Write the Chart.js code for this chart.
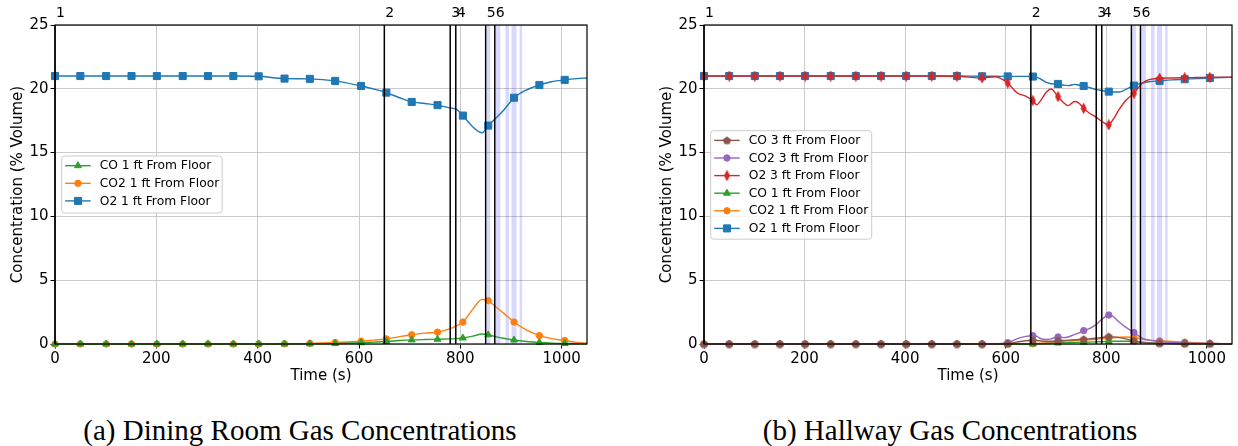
<!DOCTYPE html>
<html><head><meta charset="utf-8">
<script src="https://cdn.jsdelivr.net/npm/chart.js@4.4.1/dist/chart.umd.min.js"></script>
<style>
html,body{margin:0;padding:0;background:#fff;width:1238px;height:446px;overflow:hidden;}
canvas{position:absolute;top:0;}
#cL{left:0;}
#cR{left:620px;}
.cap{position:absolute;top:410px;font-family:'Liberation Serif','Times New Roman',serif;font-size:29px;line-height:40px;color:#000;white-space:nowrap;transform:translateX(-50%);}
</style></head><body>
<canvas id="cL" width="620" height="390" style="width:620px;height:390px"></canvas>
<canvas id="cR" width="618" height="390" style="width:618px;height:390px"></canvas>
<div class="cap" style="left:300px">(a) Dining Room Gas Concentrations</div>
<div class="cap" style="left:950px">(b) Hallway Gas Concentrations</div>
<script>
// ---------- data ----------
const eventTimes = [0, 650, 780, 791, 850, 868];
const eventLabels = ['1', '2', '3', '4', '5', '6'];
const stripeStarts = [852, 870, 889, 901, 917];
const stripeEnds = [859, 879, 896, 911, 922];
const markerTimes = [0,50,101,151,201,252,302,352,402,453,503,553,604,654,704,755,805,855,906,956,1006];
const xTickValues = [0, 200, 400, 600, 800, 1000];
const yTickValues = [0, 5, 10, 15, 20, 25];

// (a) Dining room
const timeDining = [0,50,101,151,201,252,302,352,402,453,503,553,604,630,654,680,704,730,755,780,792,805,825,843,855,865,885,906,930,956,980,1006,1030,1050];
const o2Dining1ft = [21,21,21,21,21,21,21,21,20.98,20.8,20.78,20.62,20.22,19.98,19.7,19.3,18.97,18.85,18.72,18.5,18.4,17.9,17.0,16.55,17.12,17.5,18.3,19.3,19.9,20.3,20.55,20.7,20.8,20.85];
const co2Dining1ft = [0,0,0,0,0,0,0,0,0,0.02,0.05,0.12,0.22,0.3,0.4,0.58,0.72,0.85,0.93,1.2,1.42,1.72,2.75,3.5,3.4,3.08,2.42,1.72,1.1,0.66,0.42,0.27,0.13,0.07];
const coDining1ft = [0,0,0,0,0,0,0,0,0,0,0.01,0.03,0.1,0.15,0.2,0.27,0.32,0.35,0.37,0.4,0.42,0.47,0.62,0.78,0.72,0.62,0.45,0.31,0.2,0.12,0.07,0.04,0.02,0.01];

// (b) Hallway
const timeHall = [0,50,101,151,201,252,302,352,402,453,503,553,580,604,622,640,654,662,668,681,690,704,714,724,737,745,755,766,779,793,805,812,826,839,855,872,885,906,930,956,980,1006,1030,1050];
const o2Hall1ft = [21,21,21,21,21,21,21,21,21,21,21,20.98,20.98,20.97,20.97,20.97,20.96,20.9,20.8,20.5,20.4,20.38,20.3,20.25,20.35,20.3,20.22,20.1,19.95,19.85,19.78,19.75,19.75,19.95,20.25,20.45,20.55,20.62,20.7,20.75,20.8,20.85,20.88,20.9];
const o2Hall3ft = [21,21,21,21,21,21,21,21,21,21,20.98,20.85,20.95,20.45,19.7,19.42,19.08,18.74,19.0,19.75,19.98,19.39,18.95,18.68,19.0,18.9,18.47,18.1,17.8,17.4,17.17,17.5,18.4,19.1,19.65,20.45,20.72,20.82,20.85,20.87,20.88,20.9,20.9,20.9];
const co2Hall3ft = [0,0,0,0,0,0,0,0,0,0,0,0,0.02,0.1,0.4,0.6,0.65,0.6,0.45,0.35,0.4,0.55,0.5,0.55,0.75,0.85,1.05,1.2,1.5,2.0,2.27,2.2,1.7,1.3,0.9,0.45,0.3,0.18,0.12,0.08,0.06,0.04,0.03,0.02];
const coHall3ft = [0,0,0,0,0,0,0,0,0,0,0,0,0,0.02,0.15,0.25,0.28,0.27,0.25,0.22,0.22,0.25,0.27,0.3,0.33,0.35,0.37,0.4,0.45,0.52,0.58,0.56,0.5,0.4,0.25,0.12,0.08,0.05,0.03,0.02,0.01,0.01,0,0];
const coHall1ft = [0,0,0,0,0,0,0,0,0,0,0,0,0,0,0,0,0,0.01,0.02,0.04,0.06,0.08,0.1,0.11,0.12,0.13,0.13,0.15,0.17,0.19,0.2,0.21,0.22,0.22,0.2,0.13,0.08,0.05,0.03,0.02,0.01,0.01,0,0];
const co2Hall1ft = [0,0,0,0,0,0,0,0,0,0,0,0,0,0,0,0,0.02,0.04,0.06,0.1,0.14,0.2,0.22,0.24,0.27,0.28,0.3,0.33,0.37,0.42,0.45,0.48,0.53,0.55,0.5,0.38,0.3,0.25,0.2,0.15,0.1,0.05,0.03,0.02];

// ---------- marker images ----------
function markerImg(w, h, color, drawPath) {
  const c = document.createElement('canvas');
  c.width = w; c.height = h;
  const g = c.getContext('2d');
  g.fillStyle = color; g.strokeStyle = color; g.lineWidth = 1;
  g.beginPath(); drawPath(g, w, h); g.closePath(); g.fill(); g.stroke();
  return c;
}
const thinDiamond = markerImg(7, 11, '#d62728', (g, w, h) => {
  g.moveTo(w/2, 0.5); g.lineTo(w-1, h/2); g.lineTo(w/2, h-0.5); g.lineTo(1, h/2);
});
const pentagon = markerImg(9, 9, '#8c564b', (g, w, h) => {
  const r = 3.8, cx = w/2, cy = h/2 + 0.3;
  for (let i = 0; i < 5; i++) {
    const a = -Math.PI/2 + i * 2*Math.PI/5;
    const px = cx + r*Math.cos(a), py = cy + r*Math.sin(a);
    if (i === 0) g.moveTo(px, py); else g.lineTo(px, py);
  }
});

const markerSet = new Set(markerTimes);
const FONT = "'DejaVu Sans', sans-serif";

function series(label, times, values, color, style, radius) {
  return {
    label,
    data: times.map((t, i) => ({x: t, y: values[i]})),
    borderColor: color, backgroundColor: color,
    borderWidth: 1.4,
    pointStyle: style,
    pointRadius: ctx => (ctx.raw && markerSet.has(ctx.raw.x)) ? radius : 0,
    pointBorderWidth: 1,
    pointHoverRadius: 0,
    cubicInterpolationMode: 'monotone',
    clip: false,
    legendRadius: radius
  };
}

const overlay = {
  id: 'overlay',
  beforeDatasetsDraw(chart) {
    const {ctx, chartArea: a, scales: {x}} = chart;
    ctx.save();
    ctx.fillStyle = 'rgba(0,0,255,0.15)';
    stripeStarts.forEach((s, i) => {
      const x0 = x.getPixelForValue(s), x1 = x.getPixelForValue(stripeEnds[i]);
      ctx.fillRect(x0, a.top, x1 - x0, a.bottom - a.top);
    });
    ctx.restore();
  },
  afterDatasetsDraw(chart, args, opts) {
    const {ctx, chartArea: a, scales: {x}} = chart;
    ctx.save();
    // event lines
    ctx.strokeStyle = '#000'; ctx.lineWidth = 1.5;
    eventTimes.forEach(t => {
      const px = x.getPixelForValue(t);
      ctx.beginPath(); ctx.moveTo(px, a.top); ctx.lineTo(px, a.bottom); ctx.stroke();
    });
    // frame
    ctx.lineWidth = 1.2;
    ctx.strokeRect(a.left, a.top, a.right - a.left, a.bottom - a.top);
    // event labels
    ctx.fillStyle = '#000';
    ctx.font = '14px ' + FONT;
    ctx.textAlign = 'left'; ctx.textBaseline = 'alphabetic';
    eventTimes.forEach((t, i) => {
      ctx.fillText(eventLabels[i], x.getPixelForValue(t) + 1, a.top - 8);
    });
    // legend
    const b = opts.box;
    ctx.beginPath();
    if (ctx.roundRect) ctx.roundRect(b.x, b.y, b.w, b.h, 3); else ctx.rect(b.x, b.y, b.w, b.h);
    ctx.fillStyle = 'rgba(255,255,255,0.8)'; ctx.fill();
    ctx.strokeStyle = '#cccccc'; ctx.lineWidth = 1; ctx.stroke();
    ctx.font = '12.3px ' + FONT; ctx.textBaseline = 'middle';
    chart.data.datasets.forEach((ds, i) => {
      const y = b.y + 9.7 + i * 17.6;
      const x0 = b.x + 3.5, x1 = b.x + 29;
      ctx.strokeStyle = ds.borderColor; ctx.lineWidth = 1.4;
      ctx.beginPath(); ctx.moveTo(x0, y); ctx.lineTo(x1, y); ctx.stroke();
      ctx.fillStyle = ds.backgroundColor; ctx.strokeStyle = ds.borderColor; ctx.lineWidth = 1;
      Chart.helpers.drawPoint(ctx, {pointStyle: ds.pointStyle, radius: ds.legendRadius, rotation: 0, borderWidth: 1}, (x0 + x1) / 2, y);
      ctx.fillStyle = '#000';
      ctx.fillText(ds.label, b.x + 38, y + 0.5);
    });
    ctx.restore();
  }
};

function makeChart(id, datasets, padLeft, padRight, box) {
  return new Chart(document.getElementById(id), {
    type: 'line',
    data: {datasets},
    plugins: [overlay],
    options: {
      responsive: false, animation: false, devicePixelRatio: 1,
      events: [],
      layout: {padding: {left: padLeft, right: padRight, top: 25, bottom: 0}},
      plugins: {legend: {display: false}, tooltip: {enabled: false}, overlay: {box}},
      scales: {
        x: {
          type: 'linear', min: 0, max: 1050,
          afterBuildTicks: s => { s.ticks = xTickValues.map(v => ({value: v})); },
          afterFit: s => { s.height = 46; },
          grid: {color: '#cbcbcb', lineWidth: 1, tickColor: '#000', tickLength: 4.5, drawTicks: true},
          border: {display: false},
          ticks: {color: '#000', font: {family: FONT, size: 15}, padding: 2, maxRotation: 0, autoSkip: false, callback: v => String(v)},
          title: {display: true, text: 'Time (s)', color: '#000', font: {family: FONT, size: 15}, padding: {top: 0, bottom: 5}}
        },
        y: {
          min: 0, max: 25,
          afterBuildTicks: s => { s.ticks = yTickValues.map(v => ({value: v})); },
          afterFit: s => { s.width = 55; },
          grid: {color: '#cbcbcb', lineWidth: 1, tickColor: '#000', tickLength: 4.5, drawTicks: true},
          border: {display: false},
          ticks: {color: '#000', font: {family: FONT, size: 15}, padding: 2, callback: v => String(v)},
          title: {display: true, text: 'Concentration (% Volume)', color: '#000', font: {family: FONT, size: 15}, padding: {top: 9, bottom: 0}}
        }
      }
    }
  });
}

makeChart('cL', [
  series('CO 1 ft From Floor', timeDining, coDining1ft, '#2ca02c', 'triangle', 4),
  series('CO2 1 ft From Floor', timeDining, co2Dining1ft, '#ff7f0e', 'circle', 3.2),
  series('O2 1 ft From Floor', timeDining, o2Dining1ft, '#1f77b4', 'rect', 5)
], 0, 33, {x: 61.7, y: 156, w: 160.5, h: 57});

makeChart('cR', [
  series('CO 3 ft From Floor', timeHall, coHall3ft, '#8c564b', pentagon, 3.5),
  series('CO2 3 ft From Floor', timeHall, co2Hall3ft, '#9467bd', 'circle', 3.2),
  series('O2 3 ft From Floor', timeHall, o2Hall3ft, '#d62728', thinDiamond, 4),
  series('CO 1 ft From Floor', timeHall, coHall1ft, '#2ca02c', 'triangle', 4),
  series('CO2 1 ft From Floor', timeHall, co2Hall1ft, '#ff7f0e', 'circle', 3.2),
  series('O2 1 ft From Floor', timeHall, o2Hall1ft, '#1f77b4', 'rect', 5)
], 29, 1, {x: 90.7, y: 130.7, w: 161, h: 108.5});
</script>
</body></html>
